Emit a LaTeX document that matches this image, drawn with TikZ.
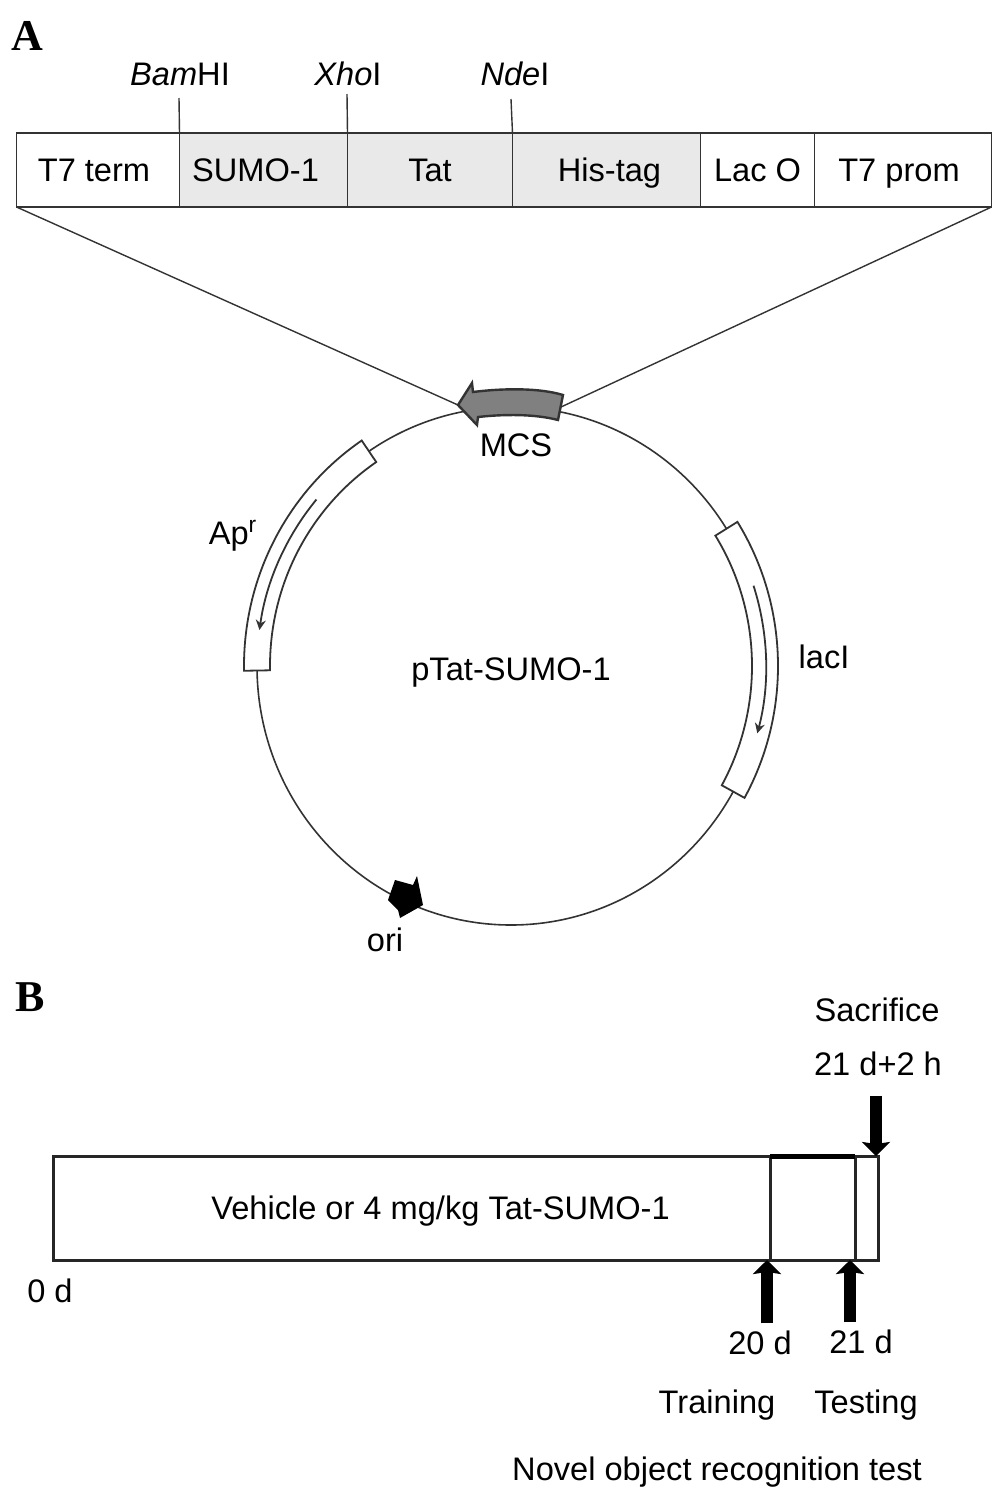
\documentclass[tikz,border=0pt]{standalone}
\usepackage{fontspec}
\setmainfont{Liberation Sans}
\newfontfamily\panelfont{Liberation Serif}
\usetikzlibrary{arrows.meta,positioning}
\definecolor{siteFill}{HTML}{E9E9E9}
\definecolor{lineGray}{HTML}{333333}
\definecolor{mcsFill}{HTML}{808080}
\tikzset{
  txt/.style   ={font=\fontsize{16.3}{19}\selectfont, inner sep=0pt, outer sep=0pt, text height=11.7pt, text depth=0pt},
  panel/.style ={font=\panelfont\bfseries\fontsize{22}{24}\selectfont, inner sep=0pt, text height=14.5pt, text depth=0pt},
  part/.style  ={txt, draw=lineGray, line width=0.9pt, minimum height=37pt},
  site/.style  ={part, fill=siteFill},
  thin/.style  ={draw=lineGray, line width=0.7pt},
  band/.style  ={draw=lineGray, line width=0.9pt, fill=white},
  inarr/.style ={draw=lineGray, line width=0.9pt, -{Stealth[length=5pt,width=5pt]}},
  stage/.style ={txt, draw=black!85, line width=1.5pt, minimum height=52pt},
  fat/.style   ={black, line width=6pt, -{Stealth[length=7pt,width=14pt,inset=1pt]}},
}

\begin{document}
\begin{tikzpicture}[x=0.5pt,y=0.5pt]
  \useasboundingbox (0,0) rectangle (1004,-1500);
  % panel A, cassette
  \node[panel] (panelA) at (27,-36) {A};
  \node[part, anchor=north west, minimum width=81.5pt] (term) at (16.5,-133) {T7 term\kern4pt};
  \node[site, right=0pt of term,  minimum width=84pt]   (sumo) {SUMO-1\kern8pt};
  \node[site, right=0pt of sumo,  minimum width=82.5pt] (tat)  {Tat};
  \node[site, right=0pt of tat,   minimum width=94pt]   (his)  {\kern3pt His-tag};
  \node[part, right=0pt of his,   minimum width=57pt]   (lac)  {Lac O};
  \node[part, right=0pt of lac,   minimum width=88.5pt] (prom) {T7 prom\kern4pt};
  % restriction sites
  \node[txt] (bam) at (180,-74) {\textit{Bam}HI};
  \node[txt] (xho) at (348,-74) {\textit{Xho}I};
  \node[txt] (nde) at (515,-74) {\textit{Nde}I};
  \coordinate (bamEnd) at (179,-98);
  \coordinate (xhoEnd) at (347,-94);
  \coordinate (ndeEnd) at (511,-99);
  \draw[thin] (bamEnd) -- (sumo.north west);
  \draw[thin] (xhoEnd) -- (tat.north west);
  \draw[thin] (ndeEnd) -- (his.north west);

  % plasmid
  \coordinate (hub) at (511,-666);
  \draw[draw=lineGray, line width=0.8pt] (hub) ellipse [x radius=254, y radius=259];
  \node[txt] (name) at (511,-669) {pTat-SUMO-1};
  \draw[band] ([shift={(124:267 and 272)}]hub) arc[start angle=124, end angle=181, x radius=267, y radius=272]
    -- ([shift={(181:241 and 246)}]hub) arc[start angle=181, end angle=124, x radius=241, y radius=246] -- cycle;
  \draw[inarr] ([shift={(140:254 and 259)}]hub) arc[start angle=140, end angle=172, x radius=254, y radius=259];
  \draw[band] ([shift={(32:267 and 272)}]hub) arc[start angle=32, end angle=-29, x radius=267, y radius=272]
    -- ([shift={(-29:241 and 246)}]hub) arc[start angle=-29, end angle=32, x radius=241, y radius=246] -- cycle;
  \draw[inarr] ([shift={(18:255 and 260)}]hub) arc[start angle=18, end angle=-15, x radius=255, y radius=260];
  \node[txt] (amp)  at (233,-533) {Ap\textsuperscript{r}};
  \node[txt] (laci) at (824,-657) {lacI};
  % MCS arrow
  \coordinate (mcsTip) at (458,-405);
  \coordinate (mcsTail) at (561,-407);
  \draw[draw=black!80, line width=1.2pt, fill=mcsFill] (mcsTip) -- (472,-383) -- (473,-392)
    .. controls (505,-388) and (540,-388) .. (563,-395) -- (558,-420)
    .. controls (535,-414) and (505,-414) .. (478,-417) -- (477,-425) -- cycle;
  \node[txt] (mcs) at (516,-445) {MCS};
  \draw[thin] (term.south west) -- (mcsTip);
  \draw[thin] (prom.south east) -- (mcsTail);
  % ori
  \fill[black] (395,-880) -- (413,-885) -- (417,-876) -- (423,-905) -- (400,-918) -- (398,-910) -- (388,-900) -- cycle;
  \node[txt] (ori) at (385,-940) {ori};

  % panel B, time line
  \node[panel] (panelB) at (30,-997) {B};
  \node[stage, anchor=north west, minimum width=358.5pt] (vehicle) at (53,-1156) {\kern29pt Vehicle or 4 mg/kg Tat-SUMO-1};
  \node[stage, right=0pt of vehicle, minimum width=42.5pt] (train) {};
  \node[stage, right=0pt of train,   minimum width=11.5pt] (test)  {};
  \draw[black, line width=2.5pt] (train.north west) -- (train.north east);
  \node[txt] (start)  at (50,-1291)   {0 d};
  \node[txt] (sac)    at (877,-1010)  {Sacrifice};
  \node[txt] (sacDay) at (878,-1064)  {21 d+2 h};
  \node[txt] (day20)  at (760,-1343)  {20 d};
  \node[txt] (day21)  at (861,-1342)  {21 d};
  \node[txt] (tTrain) at (717,-1402)  {Training};
  \node[txt] (tTest)  at (866,-1402)  {Testing};
  \node[txt] (novel)  at (717,-1469)  {Novel object recognition test};
  \draw[fat] ([xshift=-1pt,yshift=-10pt]sacDay.south -| test.north east) -- ([xshift=-1pt]test.north east);
  \draw[fat] ([xshift=-1.5pt,yshift=4pt]day20.north -| train.south west) -- ([xshift=-1.5pt]train.south west);
  \draw[fat] ([xshift=-2.5pt,yshift=4pt]day21.north -| test.south west) -- ([xshift=-2.5pt]test.south west);
\end{tikzpicture}
\end{document}
